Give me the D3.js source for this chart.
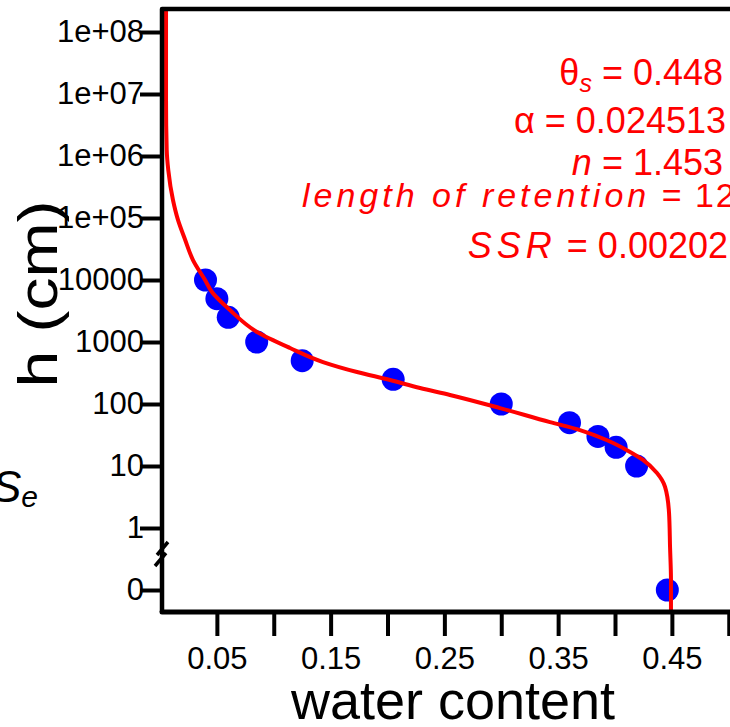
<!DOCTYPE html>
<html>
<head>
<meta charset="utf-8">
<script src="https://cdn.jsdelivr.net/npm/d3@7"></script>
<style>
  html, body { margin: 0; padding: 0; background: #fff; overflow: hidden; }
  svg { display: block; font-family: "Liberation Sans", Arial, sans-serif; }
</style>
</head>
<body>
<div id="chart"></div>
<script>
// canvas
const width = 730;
const height = 727;

// observed retention points (water content, h in cm; 0 = saturation)
const obsTheta = [0.040, 0.050, 0.060, 0.085, 0.125, 0.205, 0.300, 0.360, 0.385, 0.401, 0.419, 0.446];
const obsH = [10000, 5000, 2500, 1000, 500, 250, 100, 50, 30, 20, 10, 0];

// fitted curve
const fitTheta = [0.0053, 0.0053, 0.0059, 0.0073, 0.0114, 0.0158, 0.0220, 0.0290, 0.0396, 0.0457,
    0.0615, 0.0853, 0.1143, 0.1433, 0.1732, 0.2022, 0.2286, 0.2549, 0.2989, 0.3429,
    0.3692, 0.3930, 0.4105, 0.4246, 0.4369, 0.4440, 0.4475, 0.4484, 0.4492, 0.4492];
const fitH = [2.2e8, 7.9e6, 1.26e6, 5.9e5, 1.95e5, 9.3e4, 4.5e4, 2.1e4, 1.0e4, 6400,
    3280, 1450, 800, 475, 328, 244, 181, 140, 86, 51,
    38, 26, 18, 12.5, 7.7, 4.6, 1.75, 0.49, 0.145, 0.045];

// ticks
const xTicks = [0.05, 0.10, 0.15, 0.20, 0.25, 0.30, 0.35, 0.40, 0.45, 0.50];
const xTickLabels = ['0.05', '', '0.15', '', '0.25', '', '0.35', '', '0.45', ''];
const yTicks = [0, 1, 10, 100, 1000, 10000, 1e5, 1e6, 1e7, 1e8];
const yTickLabels = ['0', '1', '10', '100', '1000', '10000', '1e+05', '1e+06', '1e+07', '1e+08'];

// fit parameters shown in the corner
const paramLabels = ['0.448', '0.024513', '1.453', '12', '0.00202'];

const svg = d3.select('#chart')
    .append('svg')
    .attr('width', width)
    .attr('height', height);

// h = 0 sits one decade under 1 (axis break)
const hv = h => h === 0 ? 0.1 : h;

const x = d3.scaleLinear().domain([0, 0.5]).range([160, 728.75]);
const y = d3.scaleLog().domain([0.1, 1e8]).range([590, 32]);

const plotLeft = 162, plotTop = 9, plotBottom = 612;

svg.append('defs').append('clipPath')
    .attr('id', 'plot')
    .append('rect')
    .attr('x', plotLeft).attr('y', plotTop)
    .attr('width', width - plotLeft + 10).attr('height', plotBottom - plotTop);

// points
svg.append('g')
    .selectAll('circle')
    .data(obsTheta.map((t, i) => [t, obsH[i]]))
    .enter()
    .append('circle')
    .attr('cx', d => x(d[0]))
    .attr('cy', d => y(hv(d[1])))
    .attr('r', 11.5)
    .attr('fill', '#0000ff');

// fitted curve
const line = d3.line()
    .x(d => x(d[0]))
    .y(d => y(d[1]))
    .curve(d3.curveMonotoneY);

svg.append('path')
    .datum(fitTheta.map((t, i) => [t, fitH[i]]))
    .attr('clip-path', 'url(#plot)')
    .attr('d', line)
    .attr('fill', 'none')
    .attr('stroke', '#ff0000')
    .attr('stroke-width', 4);

// y axis
const yAxis = svg.append('g')
    .attr('transform', `translate(${plotLeft},0)`)
    .call(d3.axisLeft(y)
        .tickValues(yTicks.map(hv))
        .tickSize(22)
        .tickPadding(-4)
        .tickFormat((d, i) => yTickLabels[i]));

// x axis
const xAxis = svg.append('g')
    .attr('transform', `translate(0,${plotBottom})`)
    .call(d3.axisBottom(x)
        .tickValues(xTicks)
        .tickSize(24)
        .tickPadding(11)
        .tickFormat((d, i) => xTickLabels[i]));

[yAxis, xAxis].forEach(a => {
    a.select('.domain').remove();
    a.selectAll('.tick line').attr('stroke', '#000').attr('stroke-width', 4);
    a.selectAll('.tick text')
        .attr('fill', '#000')
        .style('font-size', '31px')
        .style('font-family', '"Liberation Sans", Arial, sans-serif');
    // unlabeled minor ticks
    a.selectAll('.tick text').filter(function() { return this.textContent === ''; }).remove();
});

// frame
svg.append('path')
    .attr('d', `M${plotLeft},${plotBottom}L${plotLeft},${plotTop}L${width + 10},${plotTop}`)
    .attr('fill', 'none')
    .attr('stroke', '#000')
    .attr('stroke-width', 4.5)
    .attr('stroke-linejoin', 'round');

svg.append('path')
    .attr('d', `M${plotLeft},${plotBottom}L${width + 10},${plotBottom}`)
    .attr('stroke', '#000')
    .attr('stroke-width', 5)
    .attr('stroke-linecap', 'round');

// axis break marks
svg.append('path')
    .attr('d', 'M157,555L168,542M155,566L166,553')
    .attr('stroke', '#000')
    .attr('stroke-width', 3.5);

// axis titles
svg.append('text')
    .attr('x', 453)
    .attr('y', 719)
    .attr('text-anchor', 'middle')
    .style('font-size', '54px')
    .text('water content');

svg.append('text')
    .attr('transform', 'translate(57,294) rotate(-90)')
    .attr('text-anchor', 'middle')
    .attr('textLength', 187)
    .attr('lengthAdjust', 'spacingAndGlyphs')
    .style('font-size', '56px')
    .text('h (cm)');

// leftover label of neighbouring panel
const se = svg.append('text')
    .attr('x', -8)
    .attr('y', 502)
    .style('font-style', 'italic')
    .style('font-size', '44px');
se.append('tspan').text('S');
se.append('tspan').attr('dy', 5).style('font-size', '30px').text('e');

// parameter annotation
const note = svg.append('g')
    .attr('fill', '#ff0000');

const l1 = note.append('text').attr('x', 723).attr('y', 85)
    .attr('text-anchor', 'end').style('font-size', '36px');
l1.append('tspan').text('θ');
l1.append('tspan').attr('dy', 7).style('font-size', '25px').style('font-style', 'italic').text('s');
l1.append('tspan').attr('dy', -7).text(' = ' + paramLabels[0]);

const l2 = note.append('text').attr('x', 726).attr('y', 133)
    .attr('text-anchor', 'end').style('font-size', '36px');
l2.append('tspan').text('α = ' + paramLabels[1]);

const l3 = note.append('text').attr('x', 723).attr('y', 175)
    .attr('text-anchor', 'end').style('font-size', '36px');
l3.append('tspan').style('font-style', 'italic').text('n');
l3.append('tspan').text(' = ' + paramLabels[2]);

const l4 = note.append('text').attr('x', 302).attr('y', 207)
    .style('font-size', '34px');
l4.append('tspan').style('font-style', 'italic').style('letter-spacing', '4px').text('length of retention');
l4.append('tspan').style('letter-spacing', '2px').text(' = ' + paramLabels[3]);

const l5 = note.append('text').attr('x', 728).attr('y', 258)
    .attr('text-anchor', 'end').style('font-size', '36px');
l5.append('tspan').style('font-style', 'italic').style('letter-spacing', '5px').text('SSR');
l5.append('tspan').text(' = ' + paramLabels[4]);
</script>
</body>
</html>
